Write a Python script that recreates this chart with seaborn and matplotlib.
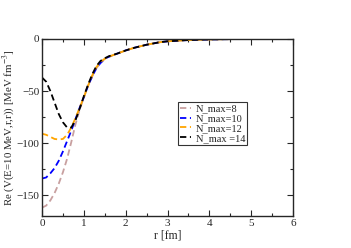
import matplotlib
matplotlib.use("Agg")
import matplotlib.pyplot as plt
import seaborn as sns
import pandas as pd
from matplotlib.ticker import MultipleLocator

r = [0.0, 0.1, 0.2, 0.3, 0.4, 0.5, 0.6, 0.7, 0.8, 0.9, 1.0, 1.1, 1.2, 1.3, 1.4, 1.5, 1.6, 1.8, 2.0, 2.2, 2.5, 2.8, 3.0, 3.5, 4.0, 4.5, 5.0, 5.5, 6.0]
v_n8 = [-162, -160, -155, -148, -139, -128, -115, -99, -82, -68, -56, -45, -36, -28, -23, -19, -17, -14, -11, -8.5, -5.5, -3.2, -2.2, -1.0, -0.4, -0.1, 0.0, 0.0, 0.0]
v_n10 = [-134, -133, -129, -124, -117, -108, -98, -88, -77, -66, -56, -45, -36, -28, -23, -19, -17, -14, -11, -8.5, -5.5, -3.2, -2.2, -1.0, -0.4, -0.1, 0.0, 0.0, 0.0]
v_n12 = [-91, -92, -94, -96, -96.5, -96, -92, -85, -76, -66, -56, -45, -35, -27, -22, -19, -17, -14, -11, -8.5, -5.5, -3.2, -2.2, -1.0, -0.4, -0.1, 0.0, 0.0, 0.0]
v_n14 = [-37, -41, -50, -61, -72, -80, -85, -85, -78, -67, -55, -44, -34, -26, -21, -18.5, -16.5, -14, -11, -8.5, -5.5, -3.2, -2.2, -1.0, -0.4, -0.1, 0.0, 0.0, 0.0]
labels = ["N_max=8", "N_max=10", "N_max=12", "N_max =14"]
colors = ["#c8a0a0", "#0000ff", "#ffa500", "#000000"]

rows = []
for lab, vals in zip(labels, [v_n8, v_n10, v_n12, v_n14]):
    for x, y in zip(r, vals):
        rows.append({"r": x, "V": y, "label": lab})
df = pd.DataFrame(rows)

sns.set_style("ticks")
plt.rcParams["font.family"] = ["Liberation Serif", "DejaVu Serif"]
plt.rcParams["mathtext.fontset"] = "stix"

fig = plt.figure(figsize=(3.51, 2.48), dpi=100)
ax = fig.add_axes([42/351, 32/248, 251/351, 177/248])

sns.lineplot(data=df, x="r", y="V", hue="label", style="label",
             palette=dict(zip(labels, colors)),
             dashes={l: (3.5, 2) for l in labels},
             hue_order=labels, style_order=labels,
             linewidth=1.3, ax=ax, legend=True, estimator=None, sort=False)

ax.set_xlim(0, 6)
ax.set_ylim(-170, 0)
ax.xaxis.set_major_locator(MultipleLocator(1))
ax.xaxis.set_minor_locator(MultipleLocator(0.5))
ax.yaxis.set_major_locator(MultipleLocator(50))
ax.yaxis.set_minor_locator(MultipleLocator(25))
ax.tick_params(which="both", direction="in", top=True, right=True, labelsize=8, width=0.8, pad=2)
ax.tick_params(which="major", length=4)
ax.tick_params(which="minor", length=2.5)
for s in ax.spines.values():
    s.set_linewidth(1.0)

ax.set_xlabel("r [fm]", fontsize=8.5, labelpad=1)
ax.set_ylabel(r"Re (V(E=10 MeV,r,r)) [MeV fm$^{-3}$]", fontsize=7.8)
ax.yaxis.set_label_coords(-0.10, 0.5)

leg = ax.legend(loc="upper left", bbox_to_anchor=((178-42)/251, (216-102)/177),
                fontsize=7.5, frameon=True, fancybox=False, edgecolor="black",
                handlelength=1.0, handletextpad=0.5, borderpad=0.2, labelspacing=0.05,
                borderaxespad=0)
leg.get_frame().set_linewidth(0.8)

fig.savefig("out.png", dpi=100)
